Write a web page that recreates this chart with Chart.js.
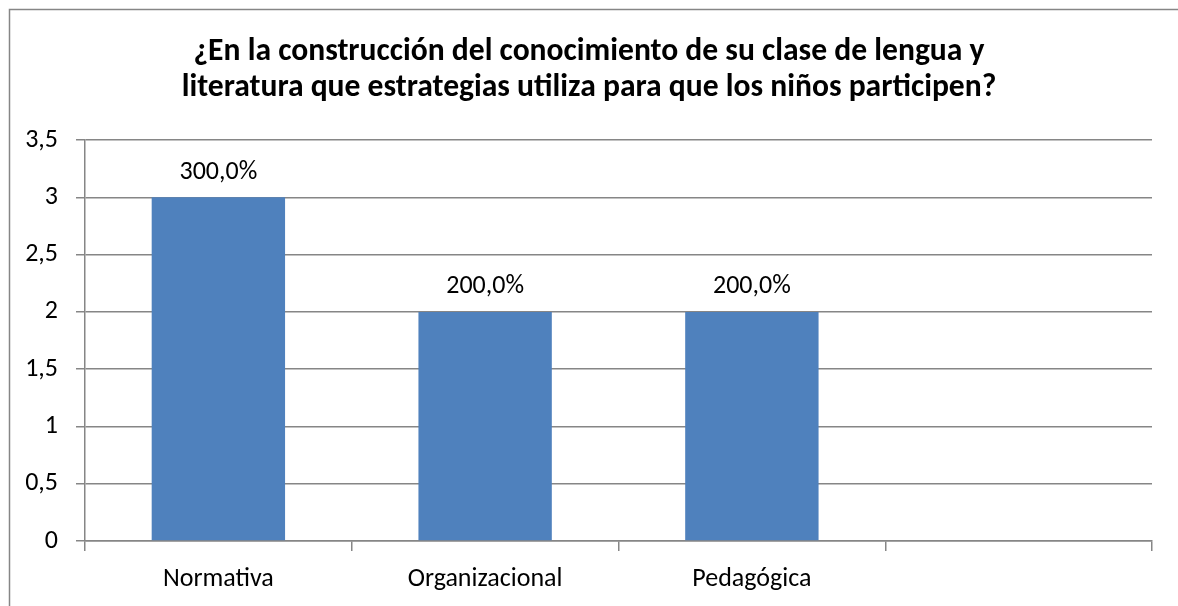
<!DOCTYPE html>
<html>
<head>
<meta charset="utf-8">
<title>Estrategias de participación</title>
<script src="https://cdn.jsdelivr.net/npm/chart.js@4/dist/chart.umd.min.js"></script>
<style>
  body { margin: 0; background: #fff; }
  #wrap { width: 1178px; height: 606px; position: relative; }
</style>
</head>
<body>
<div id="wrap"><canvas id="estrategiasChart"></canvas></div>
<script>
const categories = ["Normativa", "Organizacional", "Pedagógica", ""]
const values = [3, 2, 2, null]
const yTicks = [0, 0.5, 1, 1.5, 2, 2.5, 3, 3.5]
const titleLines = [
  "¿En la construcción del conocimiento de su clase de lengua y",
  "literatura que estrategias utiliza para que los niños participen?"
]

const fontFamily = "Carlito, Calibri, Lato, sans-serif"
const gridGray = "#868686"

// outer chart frame, only left and top edges fall inside the picture
const frameBorder = {
  id: "frameBorder",
  beforeDraw(chart) {
    const ctx = chart.ctx
    ctx.save()
    ctx.strokeStyle = gridGray
    ctx.lineWidth = 1.5
    ctx.strokeRect(9.5, 9.5, chart.width + 20, chart.height + 20)
    ctx.restore()
  }
}

const valueLabels = {
  id: "valueLabels",
  afterDatasetsDraw(chart) {
    const ctx = chart.ctx
    const meta = chart.getDatasetMeta(0)
    ctx.save()
    ctx.font = "26px " + fontFamily
    ctx.fillStyle = "#000"
    ctx.textAlign = "center"
    ctx.textBaseline = "middle"
    meta.data.forEach((bar, i) => {
      const v = values[i]
      if (v === null) return
      const txt = (v * 100).toFixed(1).replace(".", ",") + "%"
      ctx.fillText(txt, bar.x, bar.y - 25)
    })
    ctx.restore()
  }
}

const ctx = document.getElementById("estrategiasChart").getContext("2d")

new Chart(ctx, {
  type: "bar",
  data: {
    labels: categories,
    datasets: [{
      data: values,
      backgroundColor: "#4F81BD",
      borderWidth: 0,
      categoryPercentage: 1,
      barPercentage: 0.5
    }]
  },
  options: {
    responsive: true,
    maintainAspectRatio: false,
    animation: false,
    layout: {
      padding: { left: 26, right: 26, top: 0, bottom: 0 }
    },
    plugins: {
      legend: { display: false },
      tooltip: { enabled: false },
      title: {
        display: true,
        text: titleLines,
        color: "#000",
        font: { family: fontFamily, size: 31.6, weight: "bold", lineHeight: 1.14 },
        padding: { top: 34, bottom: 34 }
      }
    },
    scales: {
      x: {
        grid: {
          display: true,
          drawOnChartArea: false,
          drawTicks: true,
          tickLength: 10,
          color: gridGray,
          lineWidth: 1.5
        },
        border: { display: true, color: gridGray, width: 1.5 },
        ticks: {
          color: "#000",
          font: { family: fontFamily, size: 26 },
          padding: 13,
          maxRotation: 0
        },
        afterFit(scale) { scale.height = 65 }
      },
      y: {
        min: 0,
        max: 3.5,
        grid: {
          color: gridGray,
          lineWidth: 1.5,
          drawTicks: true,
          tickLength: 9
        },
        border: { display: true, color: gridGray, width: 1.5 },
        afterBuildTicks(scale) {
          scale.ticks = yTicks.map(v => ({ value: v }))
        },
        ticks: {
          color: "#000",
          font: { family: fontFamily, size: 26 },
          padding: 18,
          callback: v => String(v).replace(".", ",")
        },
        afterFit(scale) { scale.width = 59 }
      }
    }
  },
  plugins: [frameBorder, valueLabels]
})
</script>
</body>
</html>
